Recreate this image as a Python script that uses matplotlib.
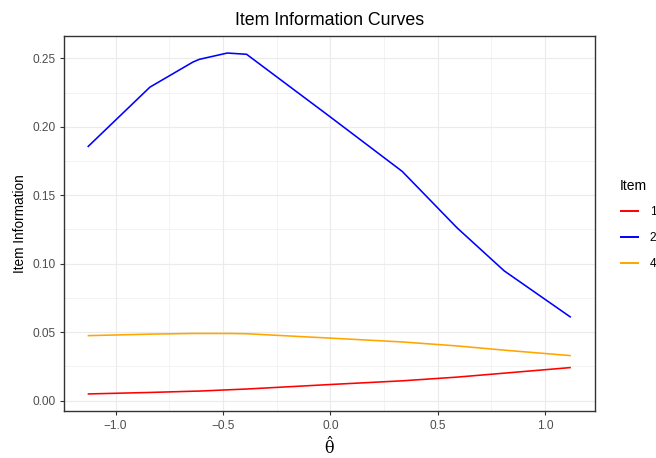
import matplotlib
matplotlib.use('Agg')
import matplotlib.pyplot as plt
from matplotlib.ticker import MultipleLocator

plt.rcParams['font.family'] = ['Liberation Sans', 'DejaVu Sans']

# theta estimates (x) and the item information for each item
theta = [-1.13, -0.84, -0.64, -0.61, -0.48, -0.39, 0.0, 0.335, 0.59, 0.81, 1.12]
info_item1 = [0.0048, 0.0059, 0.0068, 0.0069, 0.0078, 0.0084, 0.0117, 0.0144, 0.0171, 0.0200, 0.0241]
info_item2 = [0.1853, 0.2290, 0.2473, 0.2493, 0.2539, 0.2530, 0.2072, 0.1674, 0.1262, 0.0947, 0.0608]
info_item4 = [0.0474, 0.0485, 0.0490, 0.0490, 0.0490, 0.0488, 0.0456, 0.0428, 0.0399, 0.0368, 0.0328]
item_labels = ['1', '2', '4']
item_colors = ['red', 'blue', 'orange']

fig = plt.figure(figsize=(6.56, 4.58), dpi=100)
ax = fig.add_axes([63.5 / 656, 1 - 411 / 458, (595 - 63.5) / 656, (411 - 36) / 458])

lines = []
for ys, lab, col in zip([info_item1, info_item2, info_item4], item_labels, item_colors):
  ln, = ax.plot(theta, ys, color=col, lw=1.15, label=lab, solid_capstyle='butt')
  lines.append(ln)

# ggplot-like 5% expansion
xr = max(theta) - min(theta)
ax.set_xlim(min(theta) - 0.05 * xr, max(theta) + 0.05 * xr)
all_y = info_item1 + info_item2 + info_item4
yr = max(all_y) - min(all_y)
ax.set_ylim(min(all_y) - 0.05 * yr, max(all_y) + 0.05 * yr)

ax.xaxis.set_major_locator(MultipleLocator(0.5))
ax.xaxis.set_minor_locator(MultipleLocator(0.25))
ax.yaxis.set_major_locator(MultipleLocator(0.05))
ax.yaxis.set_minor_locator(MultipleLocator(0.025))
ax.xaxis.set_major_formatter(lambda v, p: '{:.1f}'.format(v).replace('-', '\u2212'))
ax.yaxis.set_major_formatter(lambda v, p: '{:.2f}'.format(v))

ax.grid(which='major', color='#EBEBEB', lw=0.8)
ax.grid(which='minor', color='#EBEBEB', lw=0.4)
ax.set_axisbelow(True)
for s in ax.spines.values():
  s.set_color('#333333')
  s.set_linewidth(1.0)
ax.tick_params(which='major', length=3, width=0.8, color='#333333', labelcolor='#4D4D4D', labelsize=8.6)
ax.tick_params(axis='x', pad=3.5)
ax.tick_params(axis='y', pad=2.5)
ax.tick_params(which='minor', length=0)

ax.set_ylabel('Item Information', fontsize=9.8, labelpad=4)
ax.set_xlabel(r'$\hat{\mathrm{\theta}}$', fontsize=11.5, labelpad=2, math_fontfamily='dejavuserif')
ax.set_title('Item Information Curves', fontsize=12.8, pad=8)

leg = fig.legend(handles=lines, labels=item_labels, title='Item', loc='upper left',
                 bbox_to_anchor=(609 / 656, 1 - 168 / 458), frameon=False,
                 fontsize=8.6, title_fontsize=10, handlelength=1.6, handletextpad=0.9,
                 labelspacing=1.15, alignment='left')
for h in leg.legend_handles:
  h.set_linewidth(1.4)

plt.savefig('out.png', dpi=100)
